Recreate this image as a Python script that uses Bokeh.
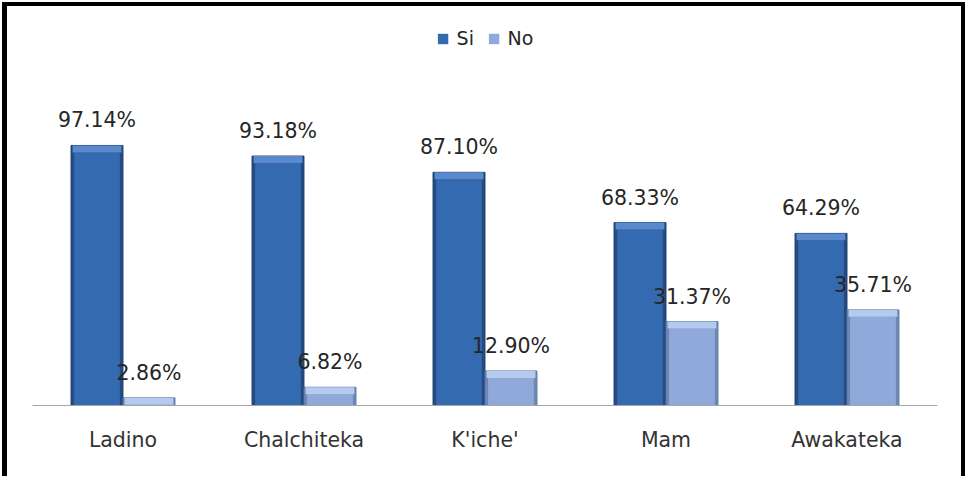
from bokeh.plotting import figure
from bokeh.models import ColumnDataSource, FactorRange, Range1d, Legend, LegendItem
from bokeh.transform import dodge
from bokeh.core.properties import value
from bokeh.embed import file_html
from bokeh.resources import INLINE

categories = ["Ladino", "Chalchiteka", "K'iche'", "Mam", "Awakateka"]
si_values = [97.14, 93.18, 87.10, 68.33, 64.29]
no_values = [2.86, 6.82, 12.90, 31.37, 35.71]
series_names = ["Si", "No"]

si_labels = ["%.2f%%" % v for v in si_values]
no_labels = ["%.2f%%" % v for v in no_values]

BEVEL = 2.6  # data units (~7px) for bevel highlight
src = ColumnDataSource(dict(
    cat=categories,
    si=si_values, no=no_values,
    si_in=[max(v - BEVEL, 0) for v in si_values],
    no_in=[max(v - BEVEL, 0) for v in no_values],
    si_bev0=[max(v - BEVEL, 0) for v in si_values],
    no_bev0=[max(v - BEVEL, 0) for v in no_values],
    si_lab=si_labels, no_lab=no_labels,
))

FONT = "DejaVu Sans"

p = figure(
    x_range=FactorRange(*categories),
    y_range=Range1d(0, 149.05),
    width=963, height=474,
    output_backend="svg", toolbar_location=None,
    min_border_left=25, min_border_right=33, min_border_top=0, min_border_bottom=75,
)
p.styles = {"border-left": "5px solid black", "border-top": "4px solid black",
            "border-right": "4px solid black", "margin-left": "2px", "margin-top": "2px"}
p.outline_line_color = None
p.xgrid.visible = False
p.ygrid.visible = False
p.yaxis.visible = False
p.background_fill_color = "white"
p.border_fill_color = "white"

W = 0.287
OFF = 0.1436
si_x = dodge("cat", -OFF, range=p.x_range)
no_x = dodge("cat", OFF, range=p.x_range)

# Si bars (dark blue with bevel)
p.vbar(x=si_x, top="si", width=W, source=src, fill_color="#244B83", line_color="#1F3F6E", line_width=1)
si_main = p.vbar(x=si_x, top="si_in", width=W * 0.88, source=src, fill_color="#346AAF", line_color=None)
p.vbar(x=si_x, bottom="si_bev0", top="si", width=W * 0.94, source=src, fill_color="#5A8ACB", line_color=None)

# No bars (light blue with bevel)
p.vbar(x=no_x, top="no", width=W, source=src, fill_color="#6E88B6", line_color="#5F77A2", line_width=1)
no_main = p.vbar(x=no_x, top="no_in", width=W * 0.88, source=src, fill_color="#8FAADA", line_color=None)
p.vbar(x=no_x, bottom="no_bev0", top="no", width=W * 0.94, source=src, fill_color="#B4CAEE", line_color=None)

# value labels
p.text(x=si_x, y="si", text="si_lab", source=src, text_align="center", text_baseline="bottom",
       y_offset=-13, text_font=value(FONT), text_font_size="20.5px", text_color="#262626")
p.text(x=no_x, y="no", text="no_lab", source=src, text_align="center", text_baseline="bottom",
       y_offset=-13, text_font=value(FONT), text_font_size="20.5px", text_color="#262626")

# axis
ax = p.xaxis[0]
ax.axis_line_color = "#A6A6A6"
ax.axis_line_width = 1
ax.major_tick_line_color = None
ax.minor_tick_line_color = None
ax.major_label_text_font = FONT
ax.major_label_text_font_size = "20.5px"
ax.major_label_text_color = "#333333"
ax.major_label_standoff = 16

legend = Legend(items=[LegendItem(label=series_names[0], renderers=[si_main]),
                       LegendItem(label=series_names[1], renderers=[no_main])],
                location="top_center", orientation="horizontal")
legend.label_text_font = FONT
legend.label_text_font_size = "19px"
legend.label_text_color = "#262626"
legend.glyph_width = 13
legend.glyph_height = 13
legend.label_standoff = 8
legend.spacing = 10
legend.padding = 0
legend.margin = 21
legend.border_line_color = None
legend.background_fill_alpha = 0
p.add_layout(legend)

open("out.html", "w").write(file_html(p, INLINE))
